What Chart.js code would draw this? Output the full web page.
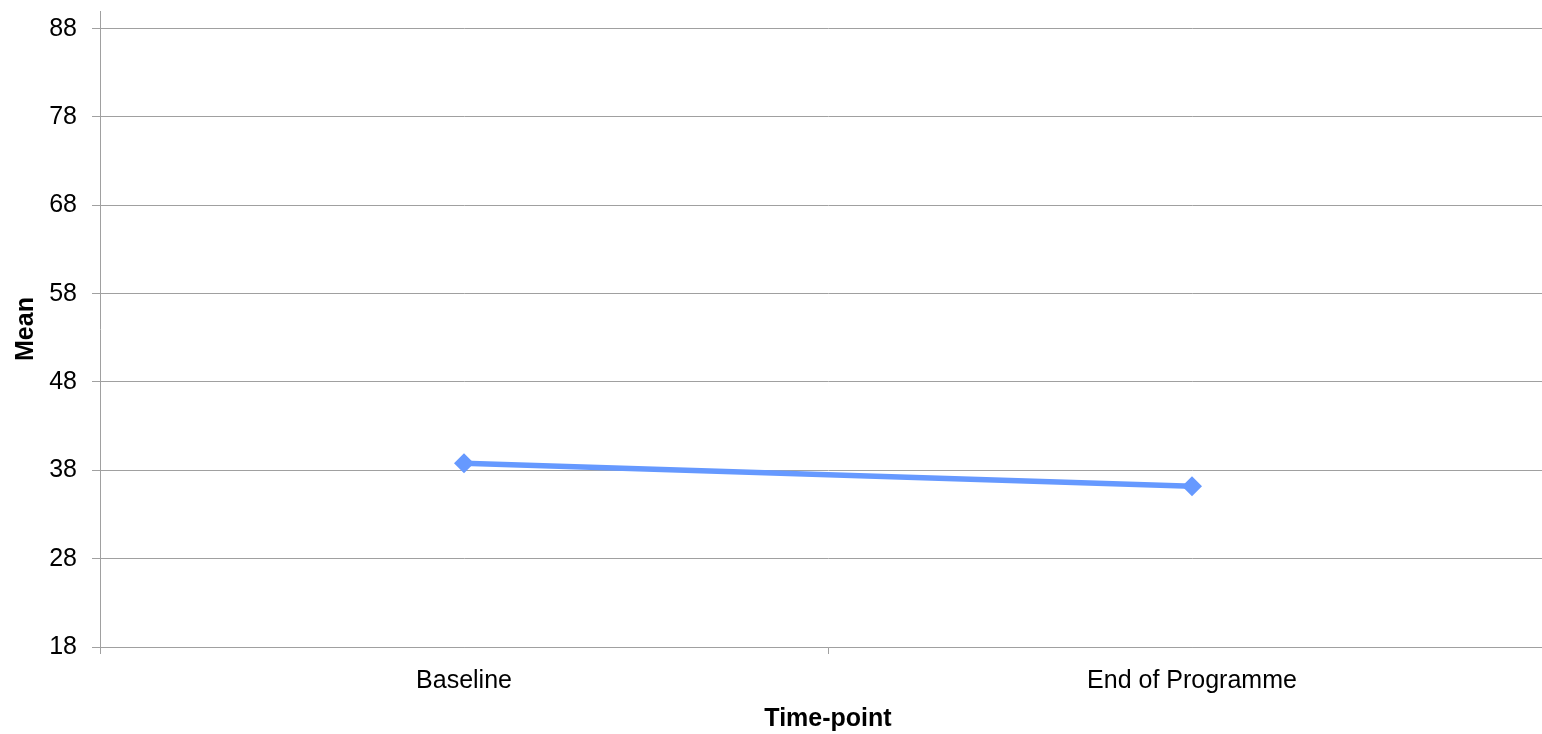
<!DOCTYPE html>
<html>
<head>
<meta charset="utf-8">
<script src="https://cdn.jsdelivr.net/npm/chart.js@4"></script>
<style>
  html, body { margin: 0; padding: 0; background: #fff; overflow: hidden; }
  #wrap { width: 1556px; height: 734px; }
</style>
</head>
<body>
<div id="wrap"><canvas id="myChart" width="1556" height="734"></canvas></div>
<script>
const timePoints = ["Baseline", "End of Programme"];
const meanValues = [38.8, 36.2];
const yTickValues = [18, 28, 38, 48, 58, 68, 78, 88];
const yMin = 18;
const yMax = 90;

const gridColor = "#a0a0a0";
const lineColor = "#6699ff";

const ctx = document.getElementById("myChart").getContext("2d");

const myChart = new Chart(ctx, {
  type: "line",
  data: {
    labels: timePoints,
    datasets: [
      {
        label: "Mean",
        data: meanValues,
        borderColor: lineColor,
        backgroundColor: lineColor,
        borderWidth: 5.5,
        tension: 0,
        pointStyle: "rectRot",
        pointRadius: 10,
        pointBorderWidth: 0,
        pointBackgroundColor: lineColor,
      },
    ],
  },
  options: {
    responsive: false,
    animation: false,
    layout: {
      autoPadding: false, // sonst kommen 10px Rand wegen der Punkte dazu
      padding: { top: 11, right: 0, bottom: 0, left: 0 },
    },
    plugins: {
      legend: { display: false },
      tooltip: { enabled: false },
    },
    scales: {
      x: {
        offset: true,
        grid: {
          offset: true,
          drawOnChartArea: false,
          color: gridColor,
          tickLength: 7,
        },
        border: { color: gridColor, width: 1 },
        ticks: {
          color: "#000",
          font: { family: "Liberation Sans, Arial", size: 25 },
          padding: 12,
          maxRotation: 0,
        },
        title: {
          display: true,
          text: "Time-point",
          color: "#000",
          font: { family: "Liberation Sans, Arial", size: 25, weight: "bold" },
          padding: { top: 0, bottom: 0 },
        },
        afterFit: (scale) => {
          scale.height = 87;
          scale.paddingLeft = 0;
          scale.paddingRight = 0;
        },
      },
      y: {
        min: yMin,
        max: yMax,
        afterBuildTicks: (scale) => {
          scale.ticks = yTickValues.map((v) => ({ value: v }));
        },
        grid: {
          color: gridColor,
          tickLength: 8,
        },
        border: { color: gridColor, width: 1 },
        ticks: {
          color: "#000",
          font: { family: "Liberation Sans, Arial", size: 25 },
          padding: 15,
        },
        title: {
          display: true,
          text: "Mean",
          color: "#000",
          font: { family: "Liberation Sans, Arial", size: 25, weight: "bold" },
          padding: { top: 11, bottom: 0 },
        },
        afterFit: (scale) => {
          scale.width = 100;
          scale.paddingTop = 0;
          scale.paddingBottom = 0;
        },
      },
    },
  },
});
</script>
</body>
</html>
